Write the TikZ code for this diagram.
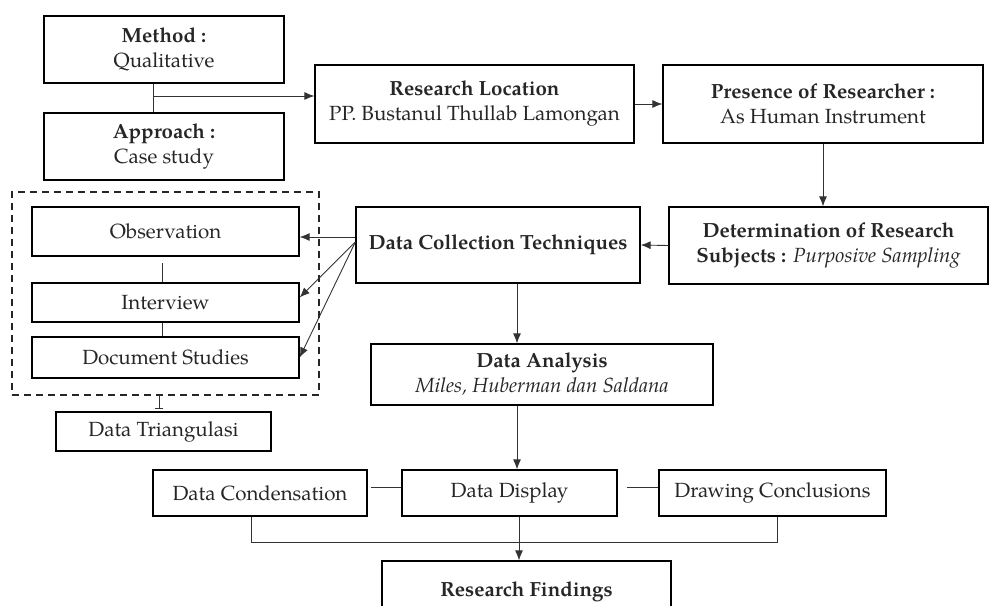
\documentclass[tikz,border=0pt]{standalone}
\usepackage{fontspec}
\setmainfont{TeX Gyre Pagella}
\usetikzlibrary{arrows.meta,calc}
\tikzset{
  box/.style={draw=black, line width=1.3pt, inner sep=0pt, align=center, text=black!85,
              font=\fontsize{20.5}{25}\selectfont},
  conn/.style={draw=black!80, line width=0.9pt},
  arr/.style={conn, -{Latex[length=10pt,width=8pt]}},
  dashbox/.style={draw=black!85, line width=1.3pt, dash pattern=on 7pt off 5pt, inner sep=0pt}
}
\begin{document}
\begin{tikzpicture}[x=1pt,y=-1pt]
\useasboundingbox (0,0) rectangle (992,605);
\clip (0,0) rectangle (992,605);
% nodes
\node[box, minimum width=240, minimum height=67] (method) at (164,49.5) {\textbf{Method :}\\Qualitative};
\node[box, minimum width=240, minimum height=67] (approach) at (164,146.5) {\textbf{Approach :}\\Case study};
\node[box, minimum width=319, minimum height=78] (loc) at (474.5,104) {\textbf{Research Location}\\PP. Bustanul Thullab Lamongan};
\node[box, minimum width=320, minimum height=78] (pres) at (823,104) {\textbf{Presence of Researcher :}\\As Human Instrument};
\node[box, minimum width=319, minimum height=77] (det) at (828.5,245.5) {\textbf{Determination of Research}\\\textbf{Subjects :} \textit{Purposive Sampling}};
\node[box, minimum width=284, minimum height=76] (dct) at (498,245) {\textbf{Data Collection Techniques}};
\node[box, minimum width=342, minimum height=61] (da) at (542,374.5) {\textbf{Data Analysis}\\\textit{Miles, Huberman dan Saldana}};
\node[dashbox, minimum width=307, minimum height=203] (group) at (165.5,293.5) {};
\node[box, minimum width=267, minimum height=49] (obs) at (165.5,231.5) {Observation};
\node[box, minimum width=267, minimum height=39] (int) at (165.5,302.5) {Interview};
\node[box, minimum width=267, minimum height=41] (doc) at (165.5,357.5) {Document Studies};
\node[box, minimum width=215, minimum height=39] (tri) at (163.5,431.5) {Data Triangulasi};
\node[box, minimum width=214, minimum height=46] (cond) at (260,493) {Data Condensation};
\node[box, minimum width=215, minimum height=46] (disp) at (509.5,493) {Data Display};
\node[box, minimum width=227, minimum height=46] (concl) at (772.5,493) {Drawing Conclusions};
\node[box, minimum width=289, minimum height=64, text depth=0pt] (rf) at (526.5,593) {\raisebox{8pt}{\textbf{Research Findings}}};
% helper coordinates
\coordinate (mq) at (153,96);
\coordinate (hy) at (0,237);
\coordinate (vx) at (162,263);
\coordinate (tx) at (159,0);
\coordinate (ax) at (517,0);
\coordinate (rx) at (519,0);
\coordinate (ly) at (0,487);
\coordinate (b1) at (251,542);
\coordinate (b2) at (777,542);
\coordinate (dg) at ($(dct.west)+(0,-3)$);
% connectors
\draw[conn] (method.south -| mq) -- (approach.north -| mq);
\draw[arr] (mq) -- (loc.west |- mq);
\draw[arr] (loc.east) -- (pres.west);
\draw[arr] (pres.south) -- (pres.south |- det.north);
\draw[arr] (det.west) -- (dct.east);
\draw[arr] (dct.west |- hy) -- (obs.east |- hy);
\draw[arr] (dg) -- ($(int.east)+(0,-5)$);
\draw[arr] (dg) -- (doc.east);
\draw[conn] (vx) -- (int.north -| vx);
\draw[conn] (int.south -| vx) -- (doc.north -| vx);
\draw[conn, -{Bar[width=8pt]}] (group.south -| tx) -- ($(tri.north -| tx)+(0,-2)$);
\draw[arr] (dct.south -| ax) -- (da.north -| ax);
\draw[arr] (da.south -| ax) -- (disp.north -| ax);
\draw[conn] ($(cond.east |- ly)+(3,0)$) -- (disp.west |- ly);
\draw[conn] ($(disp.east |- ly)+(9,0)$) -- (concl.west |- ly);
\draw[conn] (cond.south -| b1) -- (b1) -- (b2) -- (concl.south -| b2);
\draw[arr] (disp.south -| rx) -- (rf.north -| rx);
\end{tikzpicture}
\end{document}
